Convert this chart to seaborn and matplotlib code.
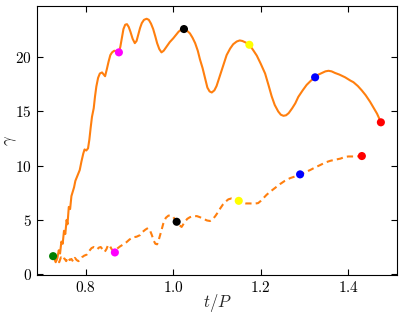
import numpy as np
import pandas as pd
import matplotlib
matplotlib.use("Agg")
import matplotlib.pyplot as plt
import seaborn as sns

# ---- data ----
solid_t = [0.727, 0.731, 0.735, 0.738, 0.741, 0.744, 0.747, 0.750, 0.753, 0.756,
           0.758, 0.761, 0.764, 0.767, 0.770, 0.773, 0.776, 0.779, 0.783, 0.786,
           0.790, 0.794, 0.797, 0.801, 0.805, 0.808, 0.811, 0.814, 0.818, 0.821,
           0.824, 0.828, 0.832, 0.837, 0.841, 0.844, 0.848, 0.852, 0.856, 0.860,
           0.865, 0.870, 0.876, 0.879, 0.882, 0.886, 0.890, 0.894, 0.898, 0.902,
           0.907, 0.912, 0.916, 0.920, 0.924, 0.928, 0.933, 0.939, 0.944, 0.949,
           0.954, 0.959, 0.963, 0.968, 0.973, 0.978, 0.985, 0.992, 1.000, 1.006,
           1.012, 1.018, 1.024, 1.030, 1.038, 1.044, 1.050, 1.056, 1.061, 1.067,
           1.073, 1.078, 1.083, 1.088, 1.094, 1.099, 1.105, 1.111, 1.117, 1.122,
           1.130, 1.137, 1.145, 1.152, 1.158, 1.166, 1.174, 1.182, 1.191, 1.200,
           1.210, 1.218, 1.225, 1.232, 1.240, 1.246, 1.252, 1.258, 1.264, 1.272,
           1.279, 1.286, 1.296, 1.305, 1.315, 1.324, 1.332, 1.340, 1.348, 1.355,
           1.362, 1.370, 1.380, 1.393, 1.405, 1.412, 1.422, 1.431, 1.440, 1.450,
           1.458, 1.466, 1.475]
solid_gamma = [1.6, 1.1, 1.5, 2.2, 1.9, 3.0, 2.8, 4.0, 3.7, 5.0,
               4.6, 6.2, 6.0, 7.2, 7.6, 8.0, 8.6, 8.9, 9.3, 9.6,
               10.4, 11.1, 11.5, 11.4, 11.6, 12.4, 13.5, 14.5, 15.3, 16.4,
               17.3, 18.1, 18.5, 18.6, 18.4, 18.25, 18.9, 19.6, 20.2, 20.45,
               20.6, 20.55, 20.45, 21.0, 21.7, 22.6, 23.0, 23.05, 22.8, 22.35,
               21.7, 21.3, 21.5, 22.1, 22.7, 23.15, 23.45, 23.55, 23.45, 23.1,
               22.6, 21.9, 21.3, 20.75, 20.45, 20.6, 21.0, 21.4, 21.75, 22.05,
               22.35, 22.55, 22.6, 22.5, 22.2, 21.8, 21.3, 20.6, 19.8, 19.0,
               18.0, 17.2, 16.85, 16.75, 16.95, 17.35, 18.1, 18.85, 19.6, 20.2,
               20.8, 21.2, 21.45, 21.55, 21.5, 21.35, 21.15, 20.7, 20.15, 19.4,
               18.5, 17.4, 16.4, 15.6, 15.0, 14.7, 14.6, 14.65, 14.85, 15.3,
               15.75, 16.35, 16.95, 17.45, 17.85, 18.15, 18.4, 18.55, 18.7, 18.75,
               18.7, 18.55, 18.4, 18.15, 17.85, 17.7, 17.35, 16.95, 16.5, 15.9,
               15.35, 14.8, 14.0]

dashed_t = [0.727, 0.731, 0.735, 0.739, 0.743, 0.747, 0.751, 0.755, 0.759, 0.763,
            0.767, 0.771, 0.775, 0.779, 0.783, 0.787, 0.791, 0.796, 0.802, 0.807,
            0.813, 0.818, 0.822, 0.826, 0.830, 0.834, 0.838, 0.843, 0.847, 0.851,
            0.855, 0.859, 0.864, 0.870, 0.878, 0.886, 0.893, 0.900, 0.908, 0.916,
            0.924, 0.930, 0.936, 0.942, 0.947, 0.951, 0.955, 0.959, 0.963, 0.967,
            0.972, 0.977, 0.983, 0.989, 0.995, 1.000, 1.005, 1.008, 1.013, 1.019,
            1.026, 1.032, 1.038, 1.046, 1.054, 1.061, 1.069, 1.077, 1.084, 1.090,
            1.096, 1.102, 1.108, 1.114, 1.120, 1.126, 1.133, 1.140, 1.150, 1.158,
            1.166, 1.175, 1.185, 1.194, 1.200, 1.206, 1.213, 1.220, 1.228, 1.236,
            1.244, 1.255, 1.267, 1.278, 1.290, 1.302, 1.313, 1.325, 1.336, 1.348,
            1.359, 1.370, 1.382, 1.392, 1.400, 1.410, 1.420, 1.431]
dashed_gamma = [1.6, 1.2, 1.4, 1.1, 1.55, 1.3, 1.45, 1.2, 1.55, 1.3,
                1.4, 1.15, 1.5, 1.3, 1.2, 1.3, 1.55, 1.7, 1.8, 2.1,
                2.4, 2.5, 2.45, 2.3, 2.45, 2.5, 2.3, 2.05, 2.3, 2.7,
                2.6, 2.3, 2.1, 2.3, 2.55, 2.75, 2.95, 3.2, 3.4, 3.45,
                3.6, 3.9, 4.1, 4.25, 4.0, 3.6, 3.1, 2.8, 2.75, 3.2,
                3.9, 4.65, 5.2, 5.4, 5.4, 5.25, 5.0, 4.8, 4.55, 4.35,
                4.8, 5.1, 5.25, 5.35, 5.35, 5.25, 5.1, 4.95, 4.9, 5.05,
                5.35, 5.7, 6.1, 6.45, 6.7, 6.9, 6.98, 6.9, 6.75, 6.6,
                6.52, 6.52, 6.5, 6.55, 6.75, 7.0, 7.3, 7.55, 7.8, 8.05,
                8.3, 8.6, 8.85, 9.0, 9.2, 9.4, 9.6, 9.85, 10.06, 10.3,
                10.45, 10.55, 10.65, 10.8, 10.85, 10.85, 10.85, 10.9]

solid_dot_t = [0.8756, 1.0244, 1.174, 1.3244, 1.4748]
solid_dot_gamma = [20.45, 22.6, 21.15, 18.15, 14.0]
solid_dot_colors = ["magenta", "black", "yellow", "blue", "red"]

dashed_dot_t = [0.7251, 0.8664, 1.0077, 1.1497, 1.29, 1.4313]
dashed_dot_gamma = [1.66, 2.0, 4.83, 6.76, 9.2, 10.89]
dashed_dot_colors = ["green", "magenta", "black", "yellow", "blue", "red"]

x_ticks = [0.8, 1.0, 1.2, 1.4]
y_ticks = [0, 5, 10, 15, 20]

# ---- style ----
sns.set_style("ticks")
plt.rcParams["font.family"] = ["serif"]
plt.rcParams["font.serif"] = ["cmr10", "DejaVu Serif"]
plt.rcParams["mathtext.fontset"] = "cm"
plt.rcParams["axes.formatter.use_mathtext"] = True
plt.rcParams["axes.unicode_minus"] = False

fig = plt.figure(figsize=(4.07, 3.13), dpi=100)
ax = fig.add_axes([0.0917, 0.1224, 0.883, 0.8586])

df_solid = pd.DataFrame({"t": solid_t, "gamma": solid_gamma})
df_dashed = pd.DataFrame({"t": dashed_t, "gamma": dashed_gamma})

sns.lineplot(data=df_solid, x="t", y="gamma", ax=ax, color="#ff7f0e",
             linewidth=1.5, sort=False, estimator=None)
sns.lineplot(data=df_dashed, x="t", y="gamma", ax=ax, color="#ff7f0e",
             linewidth=1.5, linestyle=(0, (3.0, 2.0)), sort=False, estimator=None)

df_sd = pd.DataFrame({"t": solid_dot_t, "gamma": solid_dot_gamma, "c": solid_dot_colors})
df_dd = pd.DataFrame({"t": dashed_dot_t, "gamma": dashed_dot_gamma, "c": dashed_dot_colors})
for d in (df_sd, df_dd):
    sns.scatterplot(data=d, x="t", y="gamma", hue="c",
                    palette={c: c for c in d["c"]}, s=34, linewidth=0,
                    legend=False, ax=ax, zorder=5)

ax.set_xlim(0.689, 1.511)
ax.set_ylim(-0.05, 24.73)
ax.set_xticks(x_ticks)
ax.set_yticks(y_ticks)
ax.set_xticklabels([f"${v:.1f}$" for v in x_ticks])
ax.set_yticklabels([f"${v}$" for v in y_ticks])
ax.tick_params(direction="in", top=True, right=True, length=4, width=0.8,
               labelsize=11, colors="black", pad=4)
for s in ax.spines.values():
    s.set_linewidth(0.8)
    s.set_color("black")
ax.set_xlabel(r"$t/P$", fontsize=12)
ax.set_ylabel(r"$\gamma$", fontsize=12)
ax.xaxis.set_label_coords(0.5, -0.065)
ax.yaxis.set_label_coords(-0.052, 0.5)

fig.savefig("out.png", dpi=100)
